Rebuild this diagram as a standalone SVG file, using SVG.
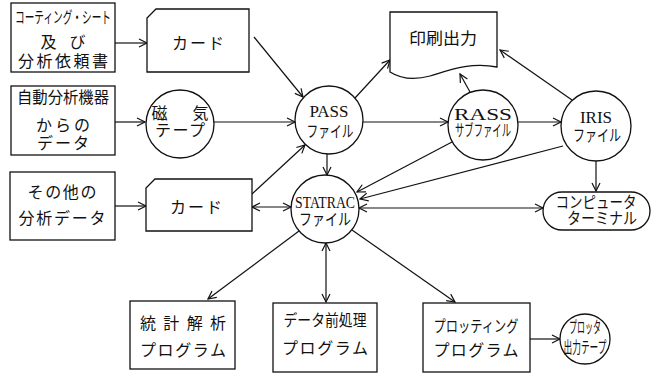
<svg xmlns="http://www.w3.org/2000/svg" width="660" height="378" viewBox="0 0 660 378">
<style>
.s{fill:#fff;stroke:#111;stroke-width:1.3}
.c line,.c path{stroke:#111;stroke-width:1.2;fill:none}
.j{font-family:"Noto Sans CJK JP","Noto Sans",sans-serif;font-size:16px;fill:#111;text-anchor:middle}
.l{font-family:"Liberation Serif",serif;font-size:17px;fill:#111;text-anchor:middle}
</style>
<defs>
<marker id="a" markerUnits="userSpaceOnUse" markerWidth="12" markerHeight="12" refX="9" refY="5" orient="auto-start-reverse">
<path d="M1,1 L9,5 L1,9" fill="none" stroke="#111" stroke-width="1.2"/>
</marker>
</defs>
<rect width="660" height="378" fill="#fff"/>
<g class="c">
<line x1="115" y1="43" x2="147" y2="43" marker-end="url(#a)"/>
<line x1="115" y1="122" x2="145" y2="122" marker-end="url(#a)"/>
<line x1="214" y1="122" x2="295" y2="122" marker-end="url(#a)"/>
<line x1="115" y1="206" x2="146" y2="206" marker-end="url(#a)"/>
<line x1="254" y1="37" x2="303" y2="97" marker-end="url(#a)"/>
<line x1="252" y1="194" x2="305" y2="145" marker-end="url(#a)"/>
<line x1="252" y1="207" x2="291" y2="207" marker-start="url(#a)" marker-end="url(#a)"/>
<line x1="327" y1="154" x2="327" y2="175" marker-end="url(#a)"/>
<line x1="355" y1="98" x2="390" y2="60" marker-end="url(#a)"/>
<line x1="363" y1="122" x2="448" y2="122" marker-end="url(#a)"/>
<line x1="470" y1="92" x2="460" y2="74" marker-end="url(#a)"/>
<line x1="518" y1="122" x2="561" y2="122" marker-end="url(#a)"/>
<line x1="572" y1="100" x2="500" y2="50" marker-end="url(#a)"/>
<line x1="596" y1="161" x2="596" y2="191" marker-end="url(#a)"/>
<line x1="452" y1="142" x2="357" y2="192" marker-end="url(#a)"/>
<line x1="563" y1="146" x2="360" y2="199" marker-end="url(#a)"/>
<line x1="359" y1="208" x2="543" y2="208" marker-start="url(#a)" marker-end="url(#a)"/>
<line x1="299" y1="231" x2="208" y2="299" marker-end="url(#a)"/>
<line x1="326" y1="243" x2="326" y2="302" marker-start="url(#a)" marker-end="url(#a)"/>
<line x1="352" y1="230" x2="455" y2="302" marker-end="url(#a)"/>
<line x1="530" y1="339" x2="560" y2="339" marker-end="url(#a)"/>
</g>
<g id="n1"><rect class="s" x="11" y="3" width="104" height="69"/>
<text class="j" x="63" y="23" font-size="14" textLength="96" lengthAdjust="spacingAndGlyphs">コーティング・シート</text>
<text class="j" x="63" y="48" font-size="17" textLength="45" lengthAdjust="spacing">及び</text>
<text class="j" x="63" y="67" font-size="17" textLength="90" lengthAdjust="spacing">分析依頼書</text></g>
<g id="n2"><path class="s" d="M156,9 H249 V72 H147 V18 Z"/>
<text class="j" x="198" y="49" textLength="52" lengthAdjust="spacing">カード</text></g>
<g id="n3"><rect class="s" x="11" y="86" width="104" height="69"/>
<text class="j" x="63" y="103" font-size="15" textLength="92" lengthAdjust="spacingAndGlyphs">自動分析機器</text>
<text class="j" x="63" y="131" font-size="17" textLength="54" lengthAdjust="spacing">からの</text>
<text class="j" x="63" y="149" font-size="17" textLength="52" lengthAdjust="spacing">データ</text></g>
<g id="n4"><circle class="s" cx="180" cy="124" r="34"/>
<text class="j" x="180" y="119" textLength="57" lengthAdjust="spacing">磁気</text>
<text class="j" x="180" y="136" textLength="50" lengthAdjust="spacing">テープ</text></g>
<g id="n5"><rect class="s" x="10" y="172" width="105" height="68"/>
<text class="j" x="62" y="198" font-size="17" textLength="69" lengthAdjust="spacing">その他の</text>
<text class="j" x="62" y="224" font-size="17" textLength="87" lengthAdjust="spacing">分析データ</text></g>
<g id="n6"><path class="s" d="M155,179 H252 V231 H146 V188 Z"/>
<text class="j" x="196" y="213" textLength="52" lengthAdjust="spacing">カード</text></g>
<g id="n7"><circle class="s" cx="329" cy="120" r="34"/>
<text class="l" x="329" y="117" font-size="16">PASS</text>
<text class="j" x="330" y="137" font-size="15" textLength="47" lengthAdjust="spacingAndGlyphs">ファイル</text></g>
<g id="n8"><circle class="s" cx="325" cy="209" r="34"/>
<text class="l" x="325" y="208" font-size="15" textLength="60" lengthAdjust="spacingAndGlyphs">STATRAC</text>
<text class="j" x="325" y="225" font-size="15" textLength="52" lengthAdjust="spacingAndGlyphs">ファイル</text></g>
<g id="n9"><path class="s" d="M390,12 H497 V67 C470,62 450,70 430,76 C412,81 398,77 390,72 Z"/>
<text class="j" x="443" y="44" textLength="68" lengthAdjust="spacingAndGlyphs">印刷出力</text></g>
<g id="n10"><circle class="s" cx="483" cy="125" r="35"/>
<text class="l" x="483" y="120" font-size="21" textLength="58" lengthAdjust="spacingAndGlyphs">RASS</text>
<text class="j" x="483" y="136" font-size="12" textLength="56" lengthAdjust="spacingAndGlyphs">サブファイル</text></g>
<g id="n11"><circle class="s" cx="596" cy="126" r="35"/>
<text class="l" x="596" y="123" font-size="21">IRIS</text>
<text class="j" x="597" y="141" font-size="15" textLength="48" lengthAdjust="spacingAndGlyphs">ファイル</text></g>
<g id="n12"><rect class="s" x="543" y="192" width="107" height="38" rx="19"/>
<text class="j" x="596" y="208" font-size="15" textLength="81" lengthAdjust="spacingAndGlyphs">コンピュータ</text>
<text class="j" x="602" y="224" font-size="15" textLength="70" lengthAdjust="spacingAndGlyphs">ターミナル</text></g>
<g id="n13"><rect class="s" x="130" y="301" width="105" height="68"/>
<text class="j" x="183" y="329" textLength="86" lengthAdjust="spacing">統計解析</text>
<text class="j" x="183" y="356" textLength="86" lengthAdjust="spacing">プログラム</text></g>
<g id="n14"><rect class="s" x="273" y="303" width="104" height="69"/>
<text class="j" x="325" y="326" textLength="83" lengthAdjust="spacingAndGlyphs">データ前処理</text>
<text class="j" x="325" y="354" textLength="86" lengthAdjust="spacing">プログラム</text></g>
<g id="n15"><rect class="s" x="423" y="303" width="107" height="69"/>
<text class="j" x="476" y="332" textLength="85" lengthAdjust="spacingAndGlyphs">プロッティング</text>
<text class="j" x="476" y="356" textLength="85" lengthAdjust="spacing">プログラム</text></g>
<g id="n16"><circle class="s" cx="585" cy="339" r="25"/>
<text class="j" x="585" y="333" font-size="13" textLength="32" lengthAdjust="spacingAndGlyphs">プロッタ</text>
<text class="j" x="585" y="353" font-size="13" textLength="43" lengthAdjust="spacingAndGlyphs">出力テープ</text></g>
</svg>
